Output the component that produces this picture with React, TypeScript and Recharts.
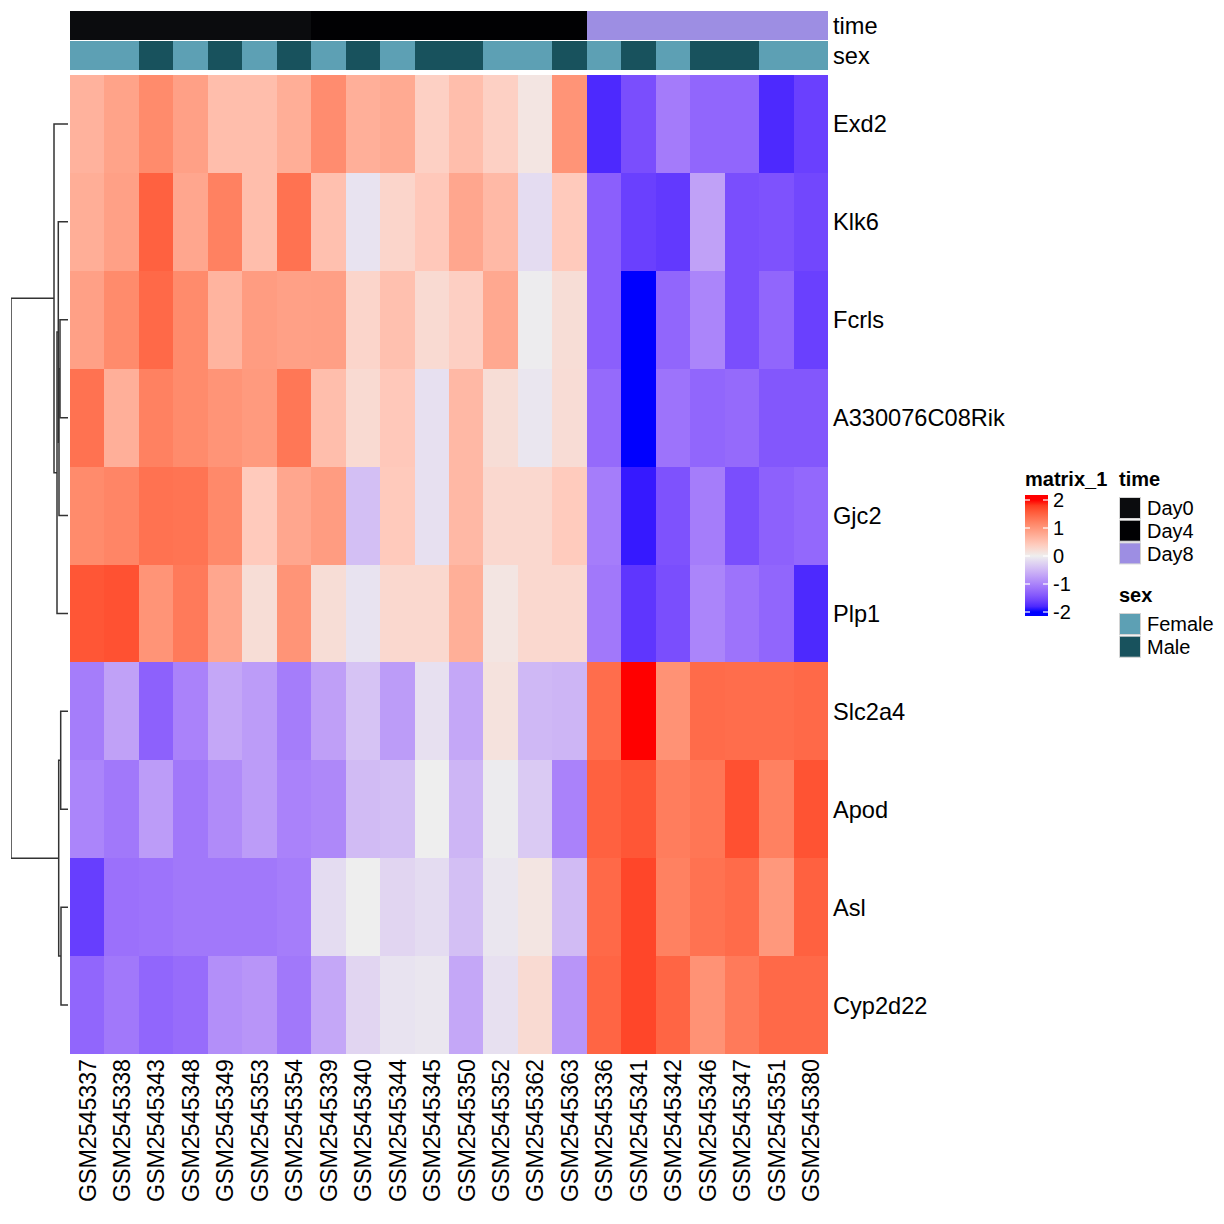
import React from "react";
import { ComposedChart, XAxis, YAxis, ReferenceArea, Scatter } from "recharts";

const FONT = '"Liberation Sans", Arial, Helvetica, sans-serif';

// ---- data ----
const samples = [
  "GSM2545337", "GSM2545338", "GSM2545343", "GSM2545348", "GSM2545349", "GSM2545353",
  "GSM2545354", "GSM2545339", "GSM2545340", "GSM2545344", "GSM2545345", "GSM2545350",
  "GSM2545352", "GSM2545362", "GSM2545363", "GSM2545336", "GSM2545341", "GSM2545342",
  "GSM2545346", "GSM2545347", "GSM2545351", "GSM2545380",
];

const sampleTime = [
  "Day0", "Day0", "Day0", "Day0", "Day0", "Day0", "Day0",
  "Day4", "Day4", "Day4", "Day4", "Day4", "Day4", "Day4", "Day4",
  "Day8", "Day8", "Day8", "Day8", "Day8", "Day8", "Day8",
];

const sampleSex = [
  "Female", "Female", "Male", "Female", "Male", "Female", "Male", "Female", "Male", "Female", "Male",
  "Male", "Female", "Female", "Male", "Female", "Male", "Female", "Male", "Male", "Female", "Female",
];

const genes = ["Exd2", "Klk6", "Fcrls", "A330076C08Rik", "Gjc2", "Plp1", "Slc2a4", "Apod", "Asl", "Cyp2d22"];

const exd2 = [0.69, 0.86, 1.12, 0.89, 0.56, 0.56, 0.74, 1.1, 0.72, 0.78, 0.35, 0.56, 0.35, 0.1, 1.02, -1.8, -1.5, -1.08, -1.28, -1.28, -1.8, -1.62];
const klk6 = [0.74, 0.89, 1.52, 0.82, 1.22, 0.56, 1.37, 0.53, -0.1, 0.29, 0.44, 0.82, 0.61, -0.17, 0.42, -1.34, -1.62, -1.68, -0.72, -1.5, -1.46, -1.56];
const fcrls = [0.89, 1.12, 1.45, 1.12, 0.67, 0.93, 0.89, 0.9, 0.29, 0.53, 0.23, 0.36, 0.8, -0.02, 0.2, -1.34, -2.0, -1.28, -0.99, -1.5, -1.28, -1.62];
const a330 = [1.37, 0.72, 1.22, 1.12, 1.02, 0.96, 1.32, 0.56, 0.23, 0.44, -0.13, 0.62, 0.2, -0.07, 0.21, -1.24, -2.0, -1.16, -1.28, -1.24, -1.42, -1.42];
const gjc2 = [1.12, 1.18, 1.37, 1.35, 1.14, 0.42, 0.82, 0.93, -0.44, 0.42, -0.13, 0.62, 0.26, 0.26, 0.41, -1.06, -1.9, -1.46, -1.06, -1.5, -1.32, -1.26];
const plp1 = [1.61, 1.65, 1.02, 1.29, 0.82, 0.2, 1.02, 0.2, -0.1, 0.26, 0.26, 0.73, 0.1, 0.26, 0.26, -1.11, -1.7, -1.5, -0.99, -1.16, -1.28, -1.8];
const slc2a4 = [-1.06, -0.72, -1.32, -1.01, -0.66, -0.77, -1.06, -0.74, -0.4, -0.77, -0.13, -0.66, 0.14, -0.5, -0.53, 1.41, 2.0, 1.04, 1.43, 1.41, 1.41, 1.45];
const apod = [-0.99, -1.11, -0.77, -1.11, -0.93, -0.77, -1.01, -0.96, -0.47, -0.44, 0.0, -0.53, -0.03, -0.33, -1.01, 1.52, 1.61, 1.26, 1.33, 1.66, 1.22, 1.64];
const asl = [-1.64, -1.18, -1.16, -1.11, -1.11, -1.11, -1.06, -0.17, 0.0, -0.23, -0.17, -0.44, -0.07, 0.1, -0.47, 1.45, 1.73, 1.22, 1.37, 1.43, 0.98, 1.52];
const cyp2d22 = [-1.28, -1.11, -1.28, -1.22, -0.89, -0.83, -1.11, -0.66, -0.23, -0.1, -0.07, -0.66, -0.13, 0.23, -0.83, 1.49, 1.73, 1.49, 1.04, 1.29, 1.45, 1.45];

const matrix = [exd2, klk6, fcrls, a330, gjc2, plp1, slc2a4, apod, asl, cyp2d22];

// row dendrogram, hclust style: negative = gene row (1-based), positive = earlier merge
const merges: [number, number, number][] = [
  [-3, -4, 0.8],
  [1, -5, 0.9],
  [-2, 2, 0.97],
  [3, -6, 1.1],
  [-1, 4, 1.4],
  [-7, -8, 0.73],
  [-9, -10, 0.7],
  [6, 7, 0.93],
  [5, 8, 5.7],
];

const legendBreaks = [2, 1, 0, -1, -2];

// ---- colours ----
const TIME_COLORS: Record<string, string> = { Day0: "#0B0C0E", Day4: "#010103", Day8: "#9D8EE3" };
const SEX_COLORS: Record<string, string> = { Female: "#5DA0B4", Male: "#18525D" };

const hexToRgb = (h: string) => [1, 3, 5].map((i) => parseInt(h.slice(i, i + 2), 16));
const toLin = (c: number) => {
  const v = c / 255;
  return v <= 0.04045 ? v / 12.92 : Math.pow((v + 0.055) / 1.055, 2.4);
};
const fromLin = (c: number) => {
  const v = c <= 0.0031308 ? 12.92 * c : 1.055 * Math.pow(c, 1 / 2.4) - 0.055;
  return Math.round(Math.max(0, Math.min(1, v)) * 255);
};
const WP = [0.95047, 1, 1.08883];
const fLab = (t: number) => (t > 216 / 24389 ? Math.cbrt(t) : (24389 / 27 * t + 16) / 116);
const fLabInv = (t: number) => (t * t * t > 216 / 24389 ? t * t * t : (116 * t - 16) / (24389 / 27));

function hexToLab(hex: string) {
  const [r, g, b] = hexToRgb(hex).map(toLin);
  const X = (0.4124 * r + 0.3576 * g + 0.1805 * b) / WP[0];
  const Y = (0.2126 * r + 0.7152 * g + 0.0722 * b) / WP[1];
  const Z = (0.0193 * r + 0.1192 * g + 0.9505 * b) / WP[2];
  const fx = fLab(X), fy = fLab(Y), fz = fLab(Z);
  return [116 * fy - 16, 500 * (fx - fy), 200 * (fy - fz)];
}

function labToHex([L, a, b]: number[]) {
  const fy = (L + 16) / 116;
  const X = fLabInv(fy + a / 500) * WP[0];
  const Y = fLabInv(fy) * WP[1];
  const Z = fLabInv(fy - b / 200) * WP[2];
  const r = 3.2406 * X - 1.5372 * Y - 0.4986 * Z;
  const g = -0.9689 * X + 1.8758 * Y + 0.0415 * Z;
  const bb = 0.0557 * X - 0.204 * Y + 1.057 * Z;
  return "#" + [r, g, bb].map((c) => fromLin(c).toString(16).padStart(2, "0")).join("");
}

const LAB_BLUE = hexToLab("#0000FF");
const LAB_MID = hexToLab("#EEEEEE");
const LAB_RED = hexToLab("#FF0000");

function colorFor(v: number) {
  const t = Math.max(-2, Math.min(2, v)) / 2;
  const end = t < 0 ? LAB_BLUE : LAB_RED;
  const k = Math.abs(t);
  return labToHex(LAB_MID.map((m, i) => m + (end[i] - m) * k));
}

// ---- layout ----
const HEAT_LEFT = 70;
const HEAT_RIGHT = 828;
const CHART_TOP = 11;
const HEAT_TOP = 75;
const HEAT_BOTTOM = 1054;
const Y_AXIS_W = 200;
const X_AXIS_H = 160;
const ROW_PX = (HEAT_BOTTOM - HEAT_TOP) / genes.length;
const pxToRow = (px: number) => (px - HEAT_TOP) / ROW_PX;

const annotations = [
  { name: "time", y1: pxToRow(11), y2: pxToRow(39.5), colorOf: (i: number) => TIME_COLORS[sampleTime[i]] },
  { name: "sex", y1: pxToRow(41), y2: pxToRow(70), colorOf: (i: number) => SEX_COLORS[sampleSex[i]] },
];

const rowTicks = [...annotations.map((a) => (a.y1 + a.y2) / 2), ...genes.map((_, i) => i + 0.5)];
const rowLabels = [...annotations.map((a) => a.name), ...genes];
const colTicks = samples.map((_, i) => i + 0.5);

const CellShape = (p: any) => (
  <rect x={p.x} y={p.y} width={p.width} height={p.height} fill={p.fill} shapeRendering="crispEdges" />
);

const RowTick = (p: any) => (
  <text x={p.x} y={p.y} dy="0.36em" textAnchor="start" fontSize={23.6} fontFamily={FONT} fill="#000">
    {rowLabels[p.index]}
  </text>
);

const ColTick = (p: any) => (
  <text
    x={p.x}
    y={p.y}
    transform={`rotate(-90 ${p.x} ${p.y})`}
    dy="0.36em"
    textAnchor="end"
    fontSize={23.2}
    fontFamily={FONT}
    fill="#000"
  >
    {samples[p.index]}
  </text>
);

function nodePos(id: number): { h: number; y: number } {
  if (id < 0) return { h: 0, y: -id - 0.5 };
  const m = merges[id - 1];
  return { h: m[2], y: (nodePos(m[0]).y + nodePos(m[1]).y) / 2 };
}

const dendroSegments = merges.map(([a, b, h]) => {
  const pa = nodePos(a);
  const pb = nodePos(b);
  return [
    { h: pa.h, y: pa.y },
    { h, y: pa.y },
    { h, y: pb.y },
    { h: pb.h, y: pb.y },
  ];
});
const rootHeight = Math.max(...merges.map((m) => m[2]));

function Heatmap() {
  return (
    <ComposedChart
      width={HEAT_RIGHT - HEAT_LEFT + Y_AXIS_W}
      height={HEAT_BOTTOM - CHART_TOP + X_AXIS_H}
      margin={{ top: 0, right: 0, bottom: 0, left: 0 }}
    >
      <XAxis
        type="number"
        dataKey="x"
        domain={[0, samples.length]}
        ticks={colTicks}
        interval={0}
        tick={<ColTick />}
        tickLine={false}
        axisLine={false}
        tickSize={3}
        tickMargin={2}
        height={X_AXIS_H}
        allowDataOverflow
      />
      <YAxis
        type="number"
        dataKey="y"
        orientation="right"
        reversed
        domain={[pxToRow(CHART_TOP), genes.length]}
        ticks={rowTicks}
        interval={0}
        tick={<RowTick />}
        tickLine={false}
        axisLine={false}
        tickSize={3}
        tickMargin={2}
        width={Y_AXIS_W}
        allowDataOverflow
      />
      {annotations.flatMap((a) =>
        samples.map((s, c) => (
          <ReferenceArea
            key={`${a.name}-${s}`}
            x1={c}
            x2={c + 1}
            y1={a.y1}
            y2={a.y2}
            fill={a.colorOf(c)}
            fillOpacity={1}
            stroke="none"
            shape={CellShape}
          />
        ))
      )}
      {matrix.flatMap((row, r) =>
        row.map((v, c) => (
          <ReferenceArea
            key={`${genes[r]}-${samples[c]}`}
            x1={c}
            x2={c + 1}
            y1={r}
            y2={r + 1}
            fill={colorFor(v)}
            fillOpacity={1}
            stroke="none"
            shape={CellShape}
          />
        ))
      )}
    </ComposedChart>
  );
}

function Dendrogram() {
  return (
    <ComposedChart width={62} height={HEAT_BOTTOM - HEAT_TOP} margin={{ top: 0, right: 0, bottom: 0, left: 5 }}>
      <XAxis type="number" dataKey="h" domain={[0, rootHeight]} reversed hide allowDataOverflow />
      <YAxis type="number" dataKey="y" domain={[0, genes.length]} reversed hide allowDataOverflow />
      {dendroSegments.map((seg, i) => (
        <Scatter
          key={i}
          data={seg}
          line={{ stroke: "#333333", strokeWidth: 1.5 }}
          lineType="joint"
          shape={() => <g />}
          isAnimationActive={false}
        />
      ))}
    </ComposedChart>
  );
}

function Legends() {
  const barTop = 35;
  const y2 = 40;
  const yMinus2 = 152;
  const valY = (v: number) => y2 + ((2 - v) / 4) * (yMinus2 - y2);
  const stops = Array.from({ length: 21 }, (_, i) => 2 - i * 0.2);
  const timeLevels = ["Day0", "Day4", "Day8"];
  const sexLevels = ["Female", "Male"];
  return (
    <svg width={214} height={220} style={{ position: "absolute", left: 1010, top: 460 }} fontFamily={FONT}>
      <defs>
        <linearGradient id="matrixGrad" gradientUnits="userSpaceOnUse" x1="0" y1={y2} x2="0" y2={yMinus2}>
          {stops.map((v, i) => (
            <stop key={i} offset={`${(i / 20) * 100}%`} stopColor={colorFor(v)} />
          ))}
        </linearGradient>
      </defs>
      <text x={15} y={26} fontSize={20} fontWeight="bold" fill="#000">matrix_1</text>
      <rect x={15} y={barTop} width={23} height={121} fill="url(#matrixGrad)" />
      {legendBreaks.map((b) => (
        <g key={b}>
          <line x1={15} x2={20} y1={valY(b)} y2={valY(b)} stroke="#fff" strokeWidth={1.2} />
          <line x1={33} x2={38} y1={valY(b)} y2={valY(b)} stroke="#fff" strokeWidth={1.2} />
          <text x={43} y={valY(b)} dy="0.36em" fontSize={20} fill="#000">{b}</text>
        </g>
      ))}

      <text x={109} y={26} fontSize={20} fontWeight="bold" fill="#000">time</text>
      {timeLevels.map((lv, i) => (
        <g key={lv}>
          <rect x={109.5} y={37.5 + i * 22.7} width={21} height={21} fill={TIME_COLORS[lv]} stroke="#d4d4d4" strokeWidth={1} />
          <text x={137} y={48 + i * 22.7} dy="0.36em" fontSize={20} fill="#000">{lv}</text>
        </g>
      ))}

      <text x={109} y={141.5} fontSize={20} fontWeight="bold" fill="#000">sex</text>
      {sexLevels.map((lv, i) => (
        <g key={lv}>
          <rect x={109.5} y={153.5 + i * 22.7} width={21} height={21} fill={SEX_COLORS[lv]} stroke="#d4d4d4" strokeWidth={1} />
          <text x={137} y={164 + i * 22.7} dy="0.36em" fontSize={20} fill="#000">{lv}</text>
        </g>
      ))}
    </svg>
  );
}

export default function App() {
  return (
    <div style={{ position: "absolute", left: 0, top: 0, width: 1224, height: 1224, background: "#fff", fontFamily: FONT }}>
      <div style={{ position: "absolute", left: HEAT_LEFT, top: CHART_TOP }}>
        <Heatmap />
      </div>
      <div style={{ position: "absolute", left: 6, top: HEAT_TOP }}>
        <Dendrogram />
      </div>
      <Legends />
    </div>
  );
}
